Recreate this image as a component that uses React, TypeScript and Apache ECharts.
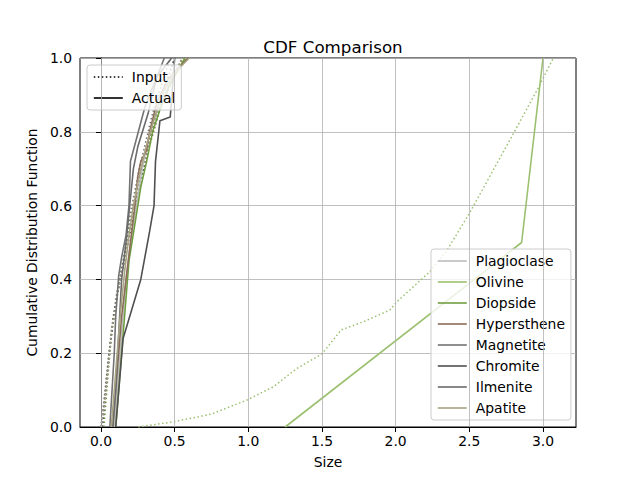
import React, { useEffect, useRef } from "react";
import * as echarts from "echarts";

const minerals = ["Plagioclase", "Olivine", "Diopside", "Hypersthene", "Magnetite", "Chromite", "Ilmenite", "Apatite"];
const colors = ["#bdbdbd", "#9bc06f", "#6f9e40", "#8c6d58", "#737373", "#505050", "#6b6b6b", "#a8a484"];

// Actual CDFs [size, cdf]
const plagioclaseActual = [[0.09,0],[0.11,0.1],[0.13,0.2],[0.15,0.3],[0.17,0.4],[0.2,0.5],[0.24,0.6],[0.28,0.7],[0.33,0.8],[0.4,0.88],[0.48,0.94],[0.58,1.0]];
const olivineActual = [[1.25,0],[2.855,0.5],[3.0,1.0]];
const diopsideActual = [[0.1,0],[0.13,0.15],[0.16,0.3],[0.19,0.45],[0.23,0.55],[0.27,0.65],[0.31,0.72],[0.35,0.8],[0.4,0.86],[0.47,0.93],[0.57,1.0]];
const hypersthenePActual = [[0.08,0],[0.11,0.15],[0.14,0.3],[0.17,0.4],[0.2,0.5],[0.23,0.6],[0.25,0.68],[0.27,0.72],[0.31,0.75],[0.33,0.8],[0.38,0.88],[0.45,0.94],[0.59,1.0]];
const magnetiteActual = [[0.06,0],[0.09,0.2],[0.1,0.3],[0.12,0.41],[0.14,0.46],[0.17,0.52],[0.19,0.6],[0.2,0.72],[0.3,0.87],[0.43,1.0]];
const chromiteActual = [[0.1,0],[0.15,0.24],[0.27,0.4],[0.33,0.53],[0.36,0.6],[0.37,0.72],[0.4,0.83],[0.47,0.84],[0.5,1.0]];
const ilmeniteActual = [[0.08,0],[0.1,0.1],[0.12,0.25],[0.14,0.4],[0.17,0.5],[0.2,0.62],[0.22,0.7],[0.25,0.76],[0.32,0.85],[0.38,0.95],[0.48,1.0]];
const apatiteActual = [[0.07,0],[0.1,0.15],[0.13,0.3],[0.16,0.42],[0.19,0.52],[0.22,0.6],[0.26,0.68],[0.3,0.75],[0.35,0.82],[0.41,0.9],[0.5,0.96],[0.6,1.0]];

// Input CDFs (dotted)
const plagioclaseInput = [[0.01,0],[0.03,0.08],[0.05,0.18],[0.07,0.26],[0.1,0.33],[0.13,0.4],[0.17,0.48],[0.22,0.6],[0.3,0.75],[0.4,0.88],[0.55,1.0]];
const olivineInput = [[0.253,0],[0.49,0.014],[0.75,0.035],[0.99,0.073],[1.17,0.109],[1.33,0.159],[1.5,0.198],[1.63,0.263],[1.78,0.285],[1.96,0.317],[2.01,0.34],[2.23,0.42],[2.35,0.48],[2.5,0.579],[2.8,0.796],[2.96,0.913],[3.07,1.0]];
const diopsideInput = [[0.02,0],[0.04,0.1],[0.06,0.2],[0.08,0.28],[0.11,0.36],[0.15,0.45],[0.2,0.56],[0.27,0.7],[0.35,0.82],[0.45,0.93],[0.56,1.0]];
const hypersthenInput = [[0.0,0],[0.02,0.06],[0.04,0.14],[0.06,0.22],[0.08,0.28],[0.12,0.38],[0.17,0.47],[0.22,0.58],[0.3,0.72],[0.4,0.86],[0.55,1.0]];
const magnetiteInput = [[0.0,0],[0.02,0.07],[0.04,0.15],[0.06,0.22],[0.08,0.29],[0.11,0.37],[0.16,0.47],[0.2,0.58],[0.26,0.7],[0.35,0.85],[0.47,1.0]];
const chromiteInput = [[0.01,0],[0.03,0.08],[0.05,0.17],[0.07,0.25],[0.09,0.31],[0.13,0.4],[0.18,0.49],[0.24,0.61],[0.31,0.74],[0.4,0.88],[0.5,1.0]];
const ilmeniteInput = [[0.0,0],[0.02,0.06],[0.04,0.13],[0.06,0.21],[0.08,0.28],[0.11,0.36],[0.16,0.46],[0.21,0.57],[0.28,0.71],[0.38,0.86],[0.5,1.0]];
const apatiteInput = [[0.0,0],[0.02,0.05],[0.04,0.12],[0.06,0.2],[0.07,0.26],[0.09,0.3],[0.12,0.38],[0.17,0.47],[0.2,0.55],[0.28,0.7],[0.38,0.85],[0.55,1.0]];

const actuals = [plagioclaseActual, olivineActual, diopsideActual, hypersthenePActual, magnetiteActual, chromiteActual, ilmeniteActual, apatiteActual];
const inputs = [plagioclaseInput, olivineInput, diopsideInput, hypersthenInput, magnetiteInput, chromiteInput, ilmeniteInput, apatiteInput];

const xTicks = [0, 0.5, 1.0, 1.5, 2.0, 2.5, 3.0];

export default function App() {
  const ref = useRef<HTMLDivElement>(null);
  useEffect(() => {
    if (!ref.current) return;
    const chart = echarts.init(ref.current, null, { renderer: "svg" });
    const font = "DejaVu Sans";
    const series: any[] = [];
    series.push({
      name: "__grid",
      type: "line",
      data: [],
      silent: true,
      z: 1,
      markLine: {
        silent: true,
        symbol: ["none", "none"],
        label: { show: false },
        lineStyle: { color: "#b0b0b0", width: 0.8, type: "solid" },
        data: xTicks.map((v) => ({ xAxis: v })),
        animation: false,
      },
    });
    inputs.forEach((d, i) => {
      series.push({
        name: minerals[i] + " (input)",
        type: "line",
        data: d,
        symbol: "none",
        z: 2,
        lineStyle: { color: colors[i], width: 1.5, type: [1.5, 2.5] },
        itemStyle: { color: colors[i] },
      });
    });
    actuals.forEach((d, i) => {
      series.push({
        name: minerals[i],
        type: "line",
        data: d,
        symbol: "none",
        z: 3,
        lineStyle: { color: colors[i], width: 1.6 },
        itemStyle: { color: colors[i] },
      });
    });
    series.push({ name: "Input", type: "line", data: [], symbol: "none", lineStyle: { color: "#000", width: 1.5, type: [1.5, 2.5] }, itemStyle: { color: "#000" } });
    series.push({ name: "Actual", type: "line", data: [], symbol: "none", lineStyle: { color: "#000", width: 1.5 }, itemStyle: { color: "#000" } });

    const legendCommon = {
      orient: "vertical",
      itemWidth: 29,
      itemHeight: 14,
      itemGap: 7,
      backgroundColor: "rgba(255,255,255,0.8)",
      borderColor: "#cccccc",
      borderWidth: 1,
      borderRadius: 3,
      itemStyle: { opacity: 0 },
      lineStyle: { width: 1.6 },
      textStyle: { fontFamily: font, fontSize: 13.9, color: "#000", padding: [0, 0, 0, 4] },
      selectedMode: false,
    };

    chart.setOption({
      animation: false,
      backgroundColor: "#fff",
      title: {
        text: "CDF Comparison",
        left: 328,
        top: 33,
        textAlign: "center",
        textStyle: { fontFamily: font, fontSize: 16.7, fontWeight: "normal", color: "#000" },
      },
      legend: [
        { ...legendCommon, data: ["Input", "Actual"], left: 87, top: 65, padding: [5, 6] },
        { ...legendCommon, data: minerals, left: 431, top: 249, padding: [5, 6] },
      ],
      grid: { left: 80, right: 64, top: 58, bottom: 53, show: true, borderColor: "#000", borderWidth: 1, backgroundColor: "transparent" },
      xAxis: {
        type: "value",
        min: -0.1425,
        max: 3.224,
        name: "Size",
        nameLocation: "middle",
        nameGap: 28,
        nameTextStyle: { fontFamily: font, fontSize: 13.9, color: "#000" },
        axisLine: { show: true, lineStyle: { color: "#000", width: 1 } },
        axisTick: { show: true, length: 5, lineStyle: { color: "#000" }, customValues: xTicks },
        axisLabel: { fontFamily: font, fontSize: 13.9, color: "#000", margin: 7, customValues: xTicks, formatter: (v: number) => v.toFixed(1) },
        splitLine: { show: false },
      },
      yAxis: {
        type: "value",
        min: 0,
        max: 1,
        interval: 0.2,
        name: "Cumulative Distribution Function",
        nameLocation: "middle",
        nameGap: 36,
        nameTextStyle: { fontFamily: font, fontSize: 13.9, color: "#000" },
        axisLine: { show: true, lineStyle: { color: "#000", width: 1 } },
        axisTick: { show: true, length: 5, lineStyle: { color: "#000" } },
        axisLabel: { fontFamily: font, fontSize: 13.9, color: "#000", margin: 8, formatter: (v: number) => v.toFixed(1) },
        splitLine: { show: true, lineStyle: { color: "#b0b0b0", width: 0.8 } },
      },
      series,
    });
    return () => chart.dispose();
  }, []);
  return <div ref={ref} style={{ position: "fixed", left: 0, top: 0, width: 640, height: 480 }} />;
}
